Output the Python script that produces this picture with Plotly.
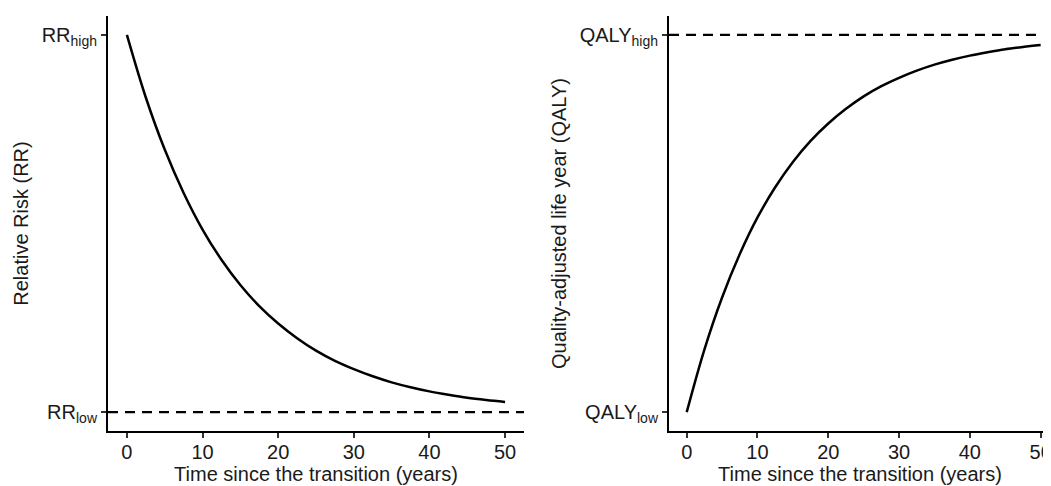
import plotly.graph_objects as go
from plotly.subplots import make_subplots

# Time since the transition (years)
years = [0, 2.5, 5, 7.5, 10, 12.5, 15, 17.5, 20, 22.5, 25, 27.5, 30, 32.5, 35,
         37.5, 40, 42.5, 45, 47.5, 50]
# Relative risk, scaled so that RR_low = 0 and RR_high = 1
rr_values = [1.000, 0.834, 0.696, 0.581, 0.484, 0.404, 0.337, 0.281, 0.235, 0.196,
             0.163, 0.136, 0.114, 0.095, 0.079, 0.066, 0.055, 0.046, 0.038, 0.032, 0.027]
# QALY, scaled so that QALY_low = 0 and QALY_high = 1
qaly_values = [0.000, 0.166, 0.304, 0.419, 0.516, 0.596, 0.663, 0.719, 0.765, 0.804,
               0.837, 0.864, 0.886, 0.905, 0.921, 0.934, 0.945, 0.954, 0.962, 0.968, 0.973]

RR_LOW, RR_HIGH = 0, 1
QALY_LOW, QALY_HIGH = 0, 1
x_ticks = [0, 10, 20, 30, 40, 50]
rr_tick_text = ["RR<sub>low</sub>", "RR<sub>high</sub>"]
qaly_tick_text = ["QALY<sub>low</sub>", "QALY<sub>high</sub>"]

# the page body has an 8px margin, so the figure is 8px smaller than the window
W, H = 1043, 478
FONT = "Liberation Sans, Arial, sans-serif"
TXT = "#1a1a1a"

fig = make_subplots(rows=1, cols=2)
fig.add_trace(go.Scatter(x=years, y=rr_values, mode="lines", line_shape="spline",
                         line=dict(color="black", width=2.5), showlegend=False), 1, 1)
fig.add_trace(go.Scatter(x=years, y=qaly_values, mode="lines", line_shape="spline",
                         line=dict(color="black", width=2.5), showlegend=False), 1, 2)

dash_line = dict(color="black", width=2.2, dash="10px,7px")
fig.add_shape(type="line", xref="x domain", yref="y", x0=0, x1=1, y0=RR_LOW, y1=RR_LOW,
              line=dash_line, layer="above")
fig.add_shape(type="line", xref="x2 domain", yref="y2", x0=0, x1=1, y0=QALY_HIGH, y1=QALY_HIGH,
              line=dash_line, layer="above")

axis_common = dict(showline=True, linecolor="black", linewidth=2, showgrid=False, zeroline=False,
                   ticks="outside", ticklen=5, tickwidth=1.5, tickcolor="#333333",
                   tickfont=dict(family=FONT, size=20, color=TXT),
                   title_font=dict(family=FONT, size=20, color=TXT),
                   ticklabeloverflow="allow")

fig.update_xaxes(**axis_common, tickvals=x_ticks, ticktext=[str(v) for v in x_ticks],
                 ticklabelstandoff=-3,
                 title_text="Time since the transition (years)", title_standoff=4)
fig.update_xaxes(range=[-2.5, 52.5], domain=[100 / W, 516 / W], row=1, col=1)
fig.update_xaxes(range=[-2.5, 51.46], domain=[661 / W, 1.0], row=1, col=2)

fig.update_yaxes(**axis_common, range=[-0.05, 1.05], title_standoff=8)
fig.update_yaxes(tickvals=[RR_LOW, RR_HIGH], ticktext=rr_tick_text,
                 title_text="Relative Risk (RR)", row=1, col=1)
fig.update_yaxes(tickvals=[QALY_LOW, QALY_HIGH], ticktext=qaly_tick_text,
                 title_text="Quality-adjusted life year (QALY)", row=1, col=2)

fig.update_layout(width=W, height=H, margin=dict(l=0, r=0, t=8, b=55),
                  plot_bgcolor="white", paper_bgcolor="white",
                  font=dict(family=FONT, size=20, color=TXT))

fig.write_html("out.html")
